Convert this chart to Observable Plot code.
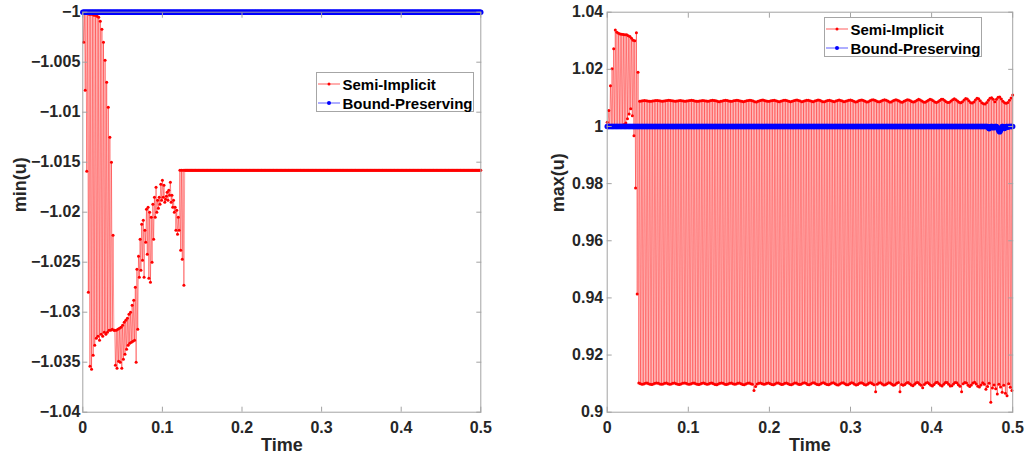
<!DOCTYPE html>
<html><head><meta charset="utf-8">
<script src="https://cdn.jsdelivr.net/npm/d3@7"></script>
<script src="https://cdn.jsdelivr.net/npm/@observablehq/plot@0.6"></script>
<style>
html,body{margin:0;padding:0;background:#fff;}
#wrap{position:relative;width:1028px;height:464px;display:flex;font-family:"Liberation Sans",Arial,Helvetica,sans-serif;}
.legend{position:absolute;background:#fff;border:1px solid #a6a6a6;box-sizing:border-box;width:158px;height:40px;font-weight:bold;font-size:15px;color:#000;}
.legend .row{position:absolute;left:0;height:19px;display:flex;align-items:center;white-space:nowrap;}
.legend svg{display:block;margin-left:1px;margin-right:2.5px;}
</style></head><body>
<div id="wrap"></div>
<script>
// ---------------- data ----------------
const dt = 0.001;              // simulation time step
const nSteps = 501;            // t = 0 ... 0.5
const seriesNames = ["Semi-Implicit", "Bound-Preserving"];
const seriesColors = ["#ff0000", "#0000ff"];
const xTicks = [0, 0.1, 0.2, 0.3, 0.4, 0.5];
const minTicks = [-1.04, -1.035, -1.03, -1.025, -1.02, -1.015, -1.01, -1.005, -1];
const maxTicks = [0.9, 0.92, 0.94, 0.96, 0.98, 1, 1.02, 1.04];

// min(u), Semi-Implicit, steps 0..127 (afterwards flat)
const semiMinEarly = [
  -1.0000, -1.0030, -1.0000, -1.0078, -1.0001, -1.0159, -1.0001, -1.0280, -1.0002, -1.0354,
  -1.0002, -1.0357, -1.0002, -1.0343, -1.0003, -1.0333, -1.0003, -1.0326, -1.0004, -1.0324,
  -1.0005, -1.0328, -1.0009, -1.0322, -1.0017, -1.0324, -1.0030, -1.0320, -1.0048, -1.0322,
  -1.0070, -1.0320, -1.0095, -1.0318, -1.0125, -1.0318, -1.0150, -1.0317, -1.0223, -1.0318,
  -1.0318, -1.0353, -1.0318, -1.0356, -1.0317, -1.0349, -1.0316, -1.0350, -1.0315, -1.0356,
  -1.0313, -1.0347, -1.0310, -1.0342, -1.0308, -1.0337, -1.0306, -1.0333, -1.0302, -1.0331,
  -1.0300, -1.0330, -1.0293, -1.0329, -1.0288, -1.0328, -1.0275, -1.0350, -1.0257, -1.0317,
  -1.0244, -1.0265, -1.0227, -1.0258, -1.0212, -1.0248, -1.0208, -1.0265, -1.0218, -1.0230,
  -1.0197, -1.0242, -1.0195, -1.0266, -1.0200, -1.0270, -1.0205, -1.0250, -1.0192, -1.0227,
  -1.0185, -1.0205, -1.0175, -1.0200, -1.0188, -1.0196, -1.0185, -1.0192, -1.0172, -1.0188,
  -1.0168, -1.0185, -1.0173, -1.0190, -1.0187, -1.0184, -1.0180, -1.0188, -1.0178, -1.0183,
  -1.0170, -1.0190, -1.0183, -1.0195, -1.0188, -1.0200, -1.0195, -1.0218, -1.0198, -1.0222,
  -1.0205, -1.0218, -1.0158, -1.0238, -1.0158, -1.0247, -1.0158, -1.0273
];
const semiMinFlat = -1.0158;   // plateau value from t = 0.128 on
const bpMinValue = -1;         // Bound-Preserving min(u) stays at -1

// max(u), Semi-Implicit, steps 0..37
const semiMaxEarly = [
  1.0015, 1.0000, 1.0056, 1.0000, 1.0143, 1.0000, 1.0202, 1.0001, 1.0272, 1.0001,
  1.0338, 1.0001, 1.0330, 1.0001, 1.0326, 1.0002, 1.0324, 1.0003, 1.0323, 1.0004,
  1.0322, 1.0007, 1.0321, 1.0012, 1.0321, 1.0027, 1.0318, 1.0044, 1.0315, 1.0062,
  1.0309, 1.0038, 1.0302, 0.9968, 1.0300, 0.9785, 1.0328, 0.9414
];
// upper branch (even steps 38..500)
const semiMaxHigh = [
  1.0190,
  1.0088, 1.0089, 1.0090, 1.0091, 1.0090, 1.0089, 1.0088, 1.0088, 1.0089, 1.0090,
  1.0091, 1.0091, 1.0090, 1.0089, 1.0088, 1.0089, 1.0090, 1.0091, 1.0092, 1.0091,
  1.0090, 1.0089, 1.0088, 1.0089, 1.0090, 1.0091, 1.0090, 1.0089, 1.0088, 1.0089,
  1.0090, 1.0091, 1.0092, 1.0091, 1.0089, 1.0088, 1.0088, 1.0089, 1.0090, 1.0091,
  1.0090, 1.0089, 1.0088, 1.0089, 1.0091, 1.0092, 1.0091, 1.0090, 1.0088, 1.0087,
  1.0088, 1.0089, 1.0091, 1.0092, 1.0091, 1.0089, 1.0088, 1.0088, 1.0090, 1.0091,
  1.0092, 1.0091, 1.0089, 1.0088, 1.0087, 1.0088, 1.0090, 1.0091, 1.0092, 1.0091,
  1.0089, 1.0087, 1.0086, 1.0088, 1.0090, 1.0092, 1.0093, 1.0091, 1.0089, 1.0088,
  1.0088, 1.0090, 1.0091, 1.0092, 1.0090, 1.0088, 1.0087, 1.0088, 1.0090, 1.0092,
  1.0092, 1.0090, 1.0088, 1.0087, 1.0088, 1.0090, 1.0092, 1.0093, 1.0091, 1.0089,
  1.0087, 1.0088, 1.0090, 1.0092, 1.0092, 1.0090, 1.0088, 1.0087, 1.0089, 1.0091,
  1.0093, 1.0092, 1.0089, 1.0087, 1.0087, 1.0089, 1.0091, 1.0092, 1.0090, 1.0088,
  1.0087, 1.0089, 1.0091, 1.0093, 1.0091, 1.0089, 1.0087, 1.0088, 1.0090, 1.0092,
  1.0093, 1.0091, 1.0088, 1.0086, 1.0087, 1.0090, 1.0092, 1.0093, 1.0091, 1.0088,
  1.0086, 1.0087, 1.0090, 1.0093, 1.0094, 1.0092, 1.0089, 1.0087, 1.0087, 1.0089,
  1.0092, 1.0094, 1.0092, 1.0089, 1.0086, 1.0086, 1.0089, 1.0092, 1.0094, 1.0092,
  1.0089, 1.0086, 1.0085, 1.0088, 1.0091, 1.0094, 1.0093, 1.0090, 1.0087, 1.0086,
  1.0088, 1.0092, 1.0095, 1.0093, 1.0089, 1.0086, 1.0085, 1.0088, 1.0092, 1.0095,
  1.0094, 1.0090, 1.0086, 1.0084, 1.0087, 1.0091, 1.0095, 1.0095, 1.0091, 1.0087,
  1.0084, 1.0085, 1.0089, 1.0094, 1.0097, 1.0094, 1.0089, 1.0085, 1.0083, 1.0087,
  1.0093, 1.0098, 1.0096, 1.0090, 1.0084, 1.0082, 1.0086, 1.0093, 1.0099, 1.0097,
  1.0090, 1.0083, 1.0080, 1.0079, 1.0084, 1.0092, 1.0099, 1.0101, 1.0095, 1.0087,
  1.0095, 1.0102, 1.0103, 1.0096, 1.0088, 1.0083, 1.0081, 1.0084, 1.0092, 1.0100,
  1.0110
];
// lower branch (odd steps 39..499)
const semiMaxLow = [
  0.9102,
  0.9100, 0.9098, 0.9099, 0.9101, 0.9102, 0.9100, 0.9098, 0.9097, 0.9099, 0.9101,
  0.9102, 0.9101, 0.9099, 0.9098, 0.9099, 0.9101, 0.9102, 0.9100, 0.9098, 0.9099,
  0.9101, 0.9102, 0.9100, 0.9098, 0.9097, 0.9099, 0.9101, 0.9102, 0.9101, 0.9099,
  0.9098, 0.9099, 0.9101, 0.9102, 0.9100, 0.9098, 0.9097, 0.9099, 0.9101, 0.9102,
  0.9100, 0.9098, 0.9099, 0.9101, 0.9102, 0.9100, 0.9097, 0.9096, 0.9099, 0.9101,
  0.9102, 0.9101, 0.9098, 0.9097, 0.9099, 0.9101, 0.9102, 0.9100, 0.9098, 0.9099,
  0.9101, 0.9102, 0.9100, 0.9097, 0.9096, 0.9099, 0.9101, 0.9102, 0.9100, 0.9098,
  0.9076, 0.9090, 0.9099, 0.9101, 0.9102, 0.9100, 0.9098, 0.9099, 0.9101, 0.9102,
  0.9100, 0.9097, 0.9096, 0.9099, 0.9102, 0.9102, 0.9100, 0.9097, 0.9098, 0.9101,
  0.9102, 0.9100, 0.9097, 0.9096, 0.9099, 0.9102, 0.9102, 0.9099, 0.9097, 0.9098,
  0.9101, 0.9103, 0.9101, 0.9097, 0.9096, 0.9099, 0.9102, 0.9103, 0.9100, 0.9097,
  0.9096, 0.9099, 0.9102, 0.9103, 0.9100, 0.9097, 0.9096, 0.9099, 0.9102, 0.9103,
  0.9100, 0.9096, 0.9095, 0.9099, 0.9102, 0.9103, 0.9100, 0.9096, 0.9096, 0.9100,
  0.9103, 0.9102, 0.9098, 0.9095, 0.9097, 0.9101, 0.9103, 0.9101, 0.9097, 0.9095,
  0.9098, 0.9102, 0.9103, 0.9100, 0.9096, 0.9072, 0.9098, 0.9102, 0.9103, 0.9099,
  0.9095, 0.9096, 0.9100, 0.9103, 0.9102, 0.9098, 0.9094, 0.9096, 0.9101, 0.9104,
  0.9072, 0.9097, 0.9094, 0.9097, 0.9102, 0.9104, 0.9100, 0.9095, 0.9093, 0.9098,
  0.9103, 0.9104, 0.9099, 0.9094, 0.9086, 0.9097, 0.9102, 0.9104, 0.9100, 0.9094,
  0.9092, 0.9097, 0.9103, 0.9105, 0.9100, 0.9094, 0.9092, 0.9098, 0.9104, 0.9104,
  0.9098, 0.9092, 0.9093, 0.9099, 0.9104, 0.9103, 0.9096, 0.9091, 0.9072, 0.9100,
  0.9104, 0.9102, 0.9094, 0.9090, 0.9095, 0.9102, 0.9105, 0.9099, 0.9091, 0.9088,
  0.9095, 0.9103, 0.9098, 0.9080, 0.9090, 0.9101, 0.9035, 0.9085, 0.9095, 0.9082,
  0.9064, 0.9098, 0.9088, 0.9070, 0.9094, 0.9066, 0.9058, 0.9100, 0.9087, 0.9076
];
// Bound-Preserving max(u): 1 until step 464, then these values (steps 465..500)
const bpMaxValue = 1;
const bpMaxTail = [
  1, 1, 1, 1, 1, 0.9996, 0.9992, 0.9997, 1, 1,
  1, 0.9995, 0.9998, 1, 1, 1, 0.9997, 0.9990, 0.9984, 0.9981,
  0.9986, 0.9995, 1, 1, 0.9996, 0.9993, 0.9998, 1, 1, 0.9997,
  1, 1, 1, 1, 1, 1
];

// ---------------- build tables ----------------
const steps = d3.range(nSteps);
const semiMin = steps.map(i => ({t: i * dt, v: i < semiMinEarly.length ? semiMinEarly[i] : semiMinFlat}));
const bpMin = steps.map(i => ({t: i * dt, v: bpMinValue}));
const semiMax = steps.map(i => ({
  t: i * dt,
  v: i < semiMaxEarly.length ? semiMaxEarly[i] : (i % 2 === 0 ? semiMaxHigh[(i - 38) / 2] : semiMaxLow[(i - 39) / 2])
}));
const bpMax = steps.map(i => ({t: i * dt, v: i < 465 ? bpMaxValue : (bpMaxTail[i - 465] ?? bpMaxValue)}));

// ---------------- drawing ----------------
const FONT = '"Liberation Sans", Arial, Helvetica, sans-serif';
const AXIS = "#a3a3a3";
const TXT = "#262626";
const fmt = d => { const s = String(+Math.abs(d).toFixed(3)); return d < 0 ? "\u2212" + s : s; };

function panel({width, marginLeft, marginRight, yDomain, yTicks, semi, bp, ylabel, ylabelDx, yPad}) {
  return Plot.plot({
    width, height: 464, marginLeft, marginRight, marginTop: 11.7, marginBottom: 52.3,
    style: {fontFamily: FONT, background: "white", overflow: "visible", color: TXT},
    x: {domain: [0, 0.5]},
    y: {domain: yDomain},
    marks: [
      Plot.line(semi, {x: "t", y: "v", stroke: seriesColors[0], strokeWidth: 0.8, strokeOpacity: 0.5}),
      Plot.dot(semi, {x: "t", y: "v", r: 1.5, fill: seriesColors[0]}),
      Plot.line(bp, {x: "t", y: "v", stroke: seriesColors[1], strokeWidth: 1.5}),
      Plot.dot(bp, {x: "t", y: "v", r: 2.7, fill: seriesColors[1]}),
      Plot.frame({stroke: AXIS}),
      Plot.axisX(xTicks, {anchor: "bottom", tickSize: -5, tickPadding: 14, stroke: AXIS, fontSize: 16, fontWeight: "bold", label: null, tickFormat: fmt}),
      Plot.axisX(xTicks, {anchor: "top", tickSize: -5, stroke: AXIS, label: null, tickFormat: () => ""}),
      Plot.axisY(yTicks, {anchor: "left", tickSize: -5, tickPadding: yPad, stroke: AXIS, fontSize: 16, fontWeight: "bold", label: null, tickFormat: fmt}),
      Plot.axisY(yTicks, {anchor: "right", tickSize: -5, stroke: AXIS, label: null, tickFormat: () => ""}),
      Plot.text(["Time"], {frameAnchor: "bottom", dy: 39, fontSize: 18, fontWeight: "bold", fill: TXT}),
      Plot.text([ylabel], {frameAnchor: "left", dx: ylabelDx, rotate: -90, fontSize: 18, fontWeight: "bold", fill: TXT})
    ]
  });
}

const wrap = document.getElementById("wrap");
wrap.appendChild(panel({width: 514, marginLeft: 82.3, marginRight: 33.7, yDomain: [-1.04, -1], yTicks: minTicks,
  semi: semiMin, bp: bpMin, ylabel: "min(u)", ylabelDx: -63, yPad: 7.5}));
wrap.appendChild(panel({width: 514, marginLeft: 92.7, marginRight: 15.8, yDomain: [0.9, 1.04], yTicks: maxTicks,
  semi: semiMax, bp: bpMax, ylabel: "max(u)", ylabelDx: -49, yPad: 9}));

function legend(left, top) {
  const box = document.createElement("div");
  box.className = "legend";
  box.style.left = left + "px";
  box.style.top = top + "px";
  seriesNames.forEach((name, k) => {
    const row = document.createElement("div");
    row.className = "row";
    row.style.top = (1.5 + k * 19) + "px";
    const c = seriesColors[k];
    row.innerHTML = `<svg width="22" height="10"><line x1="0" y1="5" x2="22" y2="5" stroke="${c}" stroke-width="0.8" stroke-opacity="0.8"/><circle cx="11" cy="5" r="${k ? 2 : 1.5}" fill="${c}"/></svg><span>${name}</span>`;
    box.appendChild(row);
  });
  wrap.appendChild(box);
}
legend(316, 72);
legend(824, 17);
</script>
</body></html>
